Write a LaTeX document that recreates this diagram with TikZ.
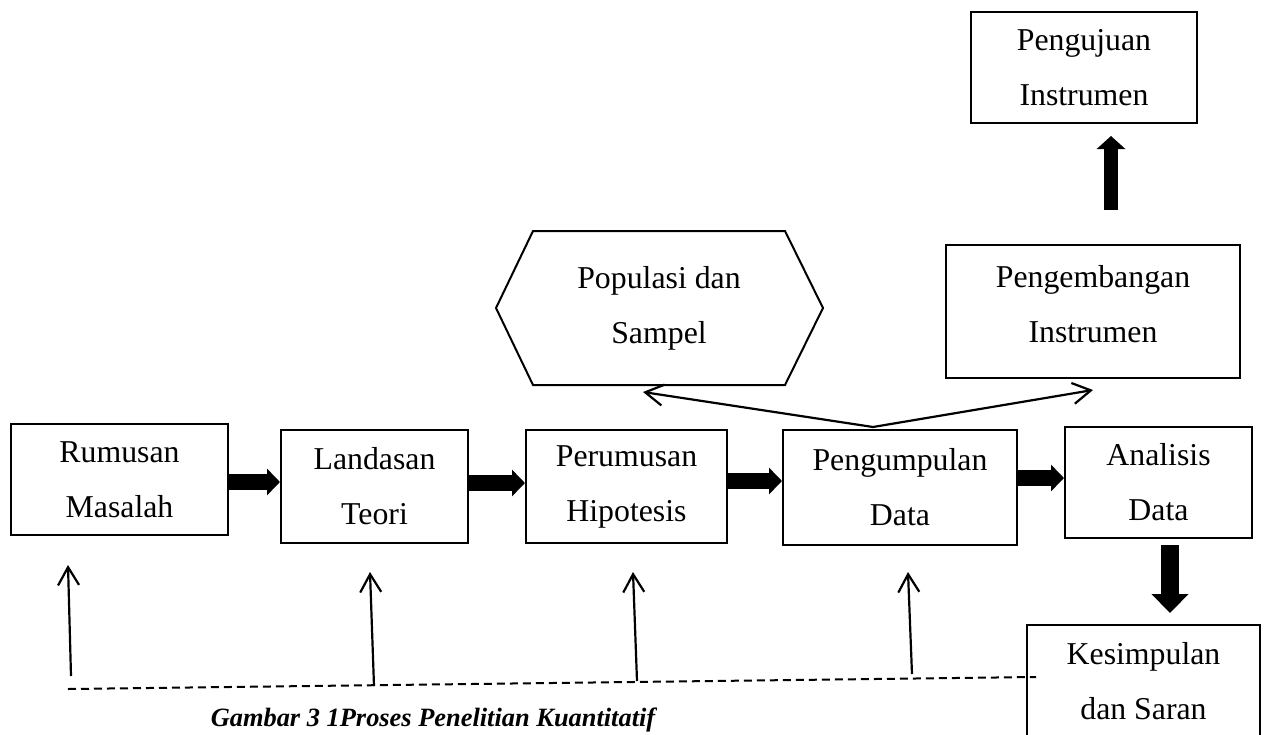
\documentclass[tikz,border=0pt]{standalone}
\usepackage{fontspec}
\setmainfont{Liberation Serif}
\usetikzlibrary{arrows.meta,calc}
\newcommand{\boxfont}{\fontsize{15.9}{27.5}\selectfont}
\tikzset{
  stepbox/.style={draw,line width=1pt,align=center,inner sep=0pt,font=\boxfont},
  blockarrow/.style={line width=8pt,-{Triangle[length=6.5pt,width=13pt]}},
  thinarrow/.style={line width=1.1pt,-{Straight Barb[length=9pt,width=10.5pt]}},
  dashline/.style={line width=1pt,dash pattern=on 4pt off 2.5pt}
}
\begin{document}
\begin{tikzpicture}[x=0.5pt,y=-0.5pt]
    \useasboundingbox (0,0) rectangle (1269,734);
    % main row
    \node[stepbox,minimum width=108.5pt,minimum height=55.5pt] (rumusan) at (119.5,479.5) {Rumusan\\Masalah};
    \node[stepbox,minimum width=93.5pt,minimum height=56.5pt] (landasan) at (374.5,486.5) {Landasan\\Teori};
    \node[stepbox,minimum width=100.5pt,minimum height=56.5pt] (perumusan) at (626.5,486.5) {Perumusan\\Hipotesis};
    \node[stepbox,minimum width=117pt,minimum height=57.5pt] (pengumpulan) at (900,487.5) {Pengumpulan\\Data};
    \node[stepbox,minimum width=93.5pt,minimum height=55.5pt] (analisis) at (1158.5,482.5) {Analisis\\Data};
    \node[stepbox,minimum width=116.5pt,minimum height=56.5pt] (kesimpulan) at (1143.5,681.5) {Kesimpulan\\dan Saran};
    % upper boxes
    \node[stepbox,minimum width=147pt,minimum height=66.5pt] (pengembangan) at (1093,311.5) {};
    \node[font=\boxfont,align=center,inner sep=0pt] (pengembanganlabel) at (1093,304) {Pengembangan\\Instrumen};
    \node[stepbox,minimum width=113pt,minimum height=55.5pt] (pengujuan) at (1084,67.5) {Pengujuan\\Instrumen};
    \node[stepbox,draw=none,minimum width=125pt,minimum height=76pt] (populasi) at (659,308) {Populasi dan\\Sampel};
    \draw[line width=1pt,line join=miter]
      (populasi.north west) -- (populasi.north east) -- ($(populasi.east)+(38,0)$)
      -- (populasi.south east) -- (populasi.south west) -- ($(populasi.west)+(-37,0)$) -- cycle;
    % block arrows
    \foreach \a/\b/\h in {rumusan/landasan/482,landasan/perumusan/483,perumusan/pengumpulan/481,pengumpulan/analisis/478}
      \draw[blockarrow] (\a.east |- 0,\h) -- (\b.west |- 0,\h);
    \draw[line width=9pt,-{Triangle[length=9.5pt,width=18pt]}]
      ($(analisis.south -| 1170,0)+(0,6)$) -- ($(kesimpulan.north -| 1170,0)+(0,-11)$);
    \draw[line width=7pt,-{Triangle[length=6.5pt,width=14pt]}]
      ($(pengembangan.north -| 1111,0)+(0,-34)$) -- ($(pengujuan.south -| 1111,0)+(0,12)$);
    % fork to populasi and pengembangan
    \coordinate (fork) at ($(pengumpulan.north)+(-27,-2)$);
    \draw[thinarrow] (fork) -- ($(populasi.south)+(-16,7)$);
    \draw[thinarrow] (fork) -- ($(pengembangan.south)+(0,11)$);
    % feedback line
    \coordinate (dashL) at (68,689);
    \coordinate (dashR) at (1036,677);
    \draw[dashline] (dashL) -- (dashR);
    \foreach \i/\xb/\yb/\xt/\yt in {1/71/676/68/565,2/374/686/370/572,3/637/681/633/572,4/912/674/908/572} {
      \coordinate (from\i) at (\xb,\yb);
      \coordinate (to\i) at (\xt,\yt);
      \draw[thinarrow] (from\i) -- (to\i);
    }
    \node[anchor=base,inner sep=0pt,font=\fontsize{13.2}{16}\selectfont\bfseries\itshape] (caption) at (433,726)
      {Gambar 3 1Proses Penelitian Kuantitatif};
  \end{tikzpicture}
\end{document}
